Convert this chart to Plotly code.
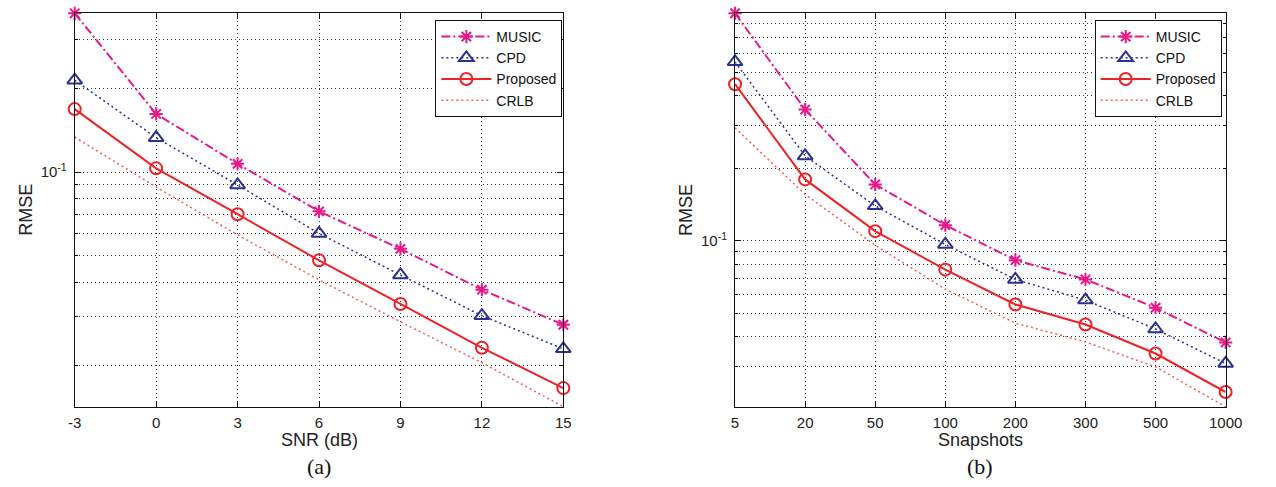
import math
import plotly.graph_objects as go

# ---------------- data ----------------
snr = [-3, 0, 3, 6, 9, 12, 15]
music_a = [0.374, 0.162, 0.107, 0.0721, 0.0528, 0.0376, 0.0281]
cpd_a = [0.2145, 0.133, 0.0898, 0.0600, 0.0425, 0.0303, 0.0230]
prop_a = [0.1687, 0.1031, 0.0704, 0.0480, 0.0334, 0.0232, 0.0166]
crlb_a = [0.1336, 0.0883, 0.0593, 0.0408, 0.0288, 0.0205, 0.01422]

snapshots = ["5", "20", "50", "100", "200", "300", "500", "1000"]
music_b = [0.881, 0.351, 0.1715, 0.1163, 0.0832, 0.0692, 0.0528, 0.0379]
cpd_b = [0.5536, 0.2254, 0.1398, 0.0967, 0.0692, 0.0568, 0.0431, 0.0310]
prop_b = [0.4472, 0.1800, 0.1098, 0.0760, 0.0545, 0.0450, 0.0341, 0.0236]
crlb_b = [0.2946, 0.156, 0.0960, 0.0631, 0.0456, 0.0381, 0.0300, 0.0205]

series_names = ["MUSIC", "CPD", "Proposed", "CRLB"]
major_y = [0.1]
major_y_text = ["10<sup>-1</sup>"]
minor_y = [0.02, 0.03, 0.04, 0.05, 0.06, 0.07, 0.08, 0.09,
           0.2, 0.3, 0.4, 0.5, 0.6, 0.7, 0.8, 0.9]

# ---------------- styles ----------------
W, H = 1276, 487
C_MUSIC = "#E8198B"
C_CPD = "#2E3192"
C_PROP = "#EE2229"
C_CRLB = "#F06060"
FONT = "Liberation Sans"

styles = {
    "MUSIC": dict(line=dict(color=C_MUSIC, width=2, dash="9px,3px,2px,3px"),
                  marker=dict(symbol="asterisk-open", size=11, color=C_MUSIC,
                              line=dict(color=C_MUSIC, width=2)),
                  mode="lines+markers"),
    "CPD": dict(line=dict(color=C_CPD, width=1.5, dash="2px,3px"),
                marker=dict(symbol="triangle-up-open", size=13, color=C_CPD,
                            line=dict(color=C_CPD, width=2)),
                mode="lines+markers"),
    "Proposed": dict(line=dict(color=C_PROP, width=2),
                     marker=dict(symbol="circle-open", size=12, color=C_PROP,
                                 line=dict(color=C_PROP, width=2)),
                     mode="lines+markers"),
    "CRLB": dict(line=dict(color=C_CRLB, width=1.5, dash="2px,3px"),
                 mode="lines"),
}

def px_x(p):
    return p / W

def px_y(p):
    return (H - p) / H

fig = go.Figure()

data_a = [music_a, cpd_a, prop_a, crlb_a]
data_b = [music_b, cpd_b, prop_b, crlb_b]
for name, ys in zip(series_names, data_a):
    fig.add_trace(go.Scatter(x=snr, y=ys, name=name, xaxis="x", yaxis="y",
                             legend="legend", cliponaxis=False, **styles[name]))
for name, ys in zip(series_names, data_b):
    fig.add_trace(go.Scatter(x=snapshots, y=ys, name=name, xaxis="x2", yaxis="y2",
                             legend="legend2", cliponaxis=False, **styles[name]))

GRID_C = "#333"
grid = dict(showgrid=True, gridcolor=GRID_C, gridwidth=1, griddash="1px,3px")
common = dict(showline=True, linecolor="#111", linewidth=1, mirror="ticks",
              ticks="inside", ticklen=6, tickcolor="#111", zeroline=False,
              tickfont=dict(family=FONT, size=15, color="#222"), **grid)

def yaxis_cfg(ys_all, anchor):
    lo = min(min(s) for s in ys_all)
    hi = max(max(s) for s in ys_all)
    eps = 1e-3
    return dict(type="log", range=[math.log10(lo) - eps, math.log10(hi) + eps],
                domain=[px_y(407), px_y(13)], anchor=anchor,
                tickmode="array", tickvals=major_y, ticktext=major_y_text,
                ticklabelstandoff=4,
                minor=dict(tickmode="array", tickvals=minor_y, ticks="inside",
                           ticklen=3, tickcolor="#111", showgrid=True,
                           gridcolor=GRID_C, gridwidth=1, griddash="1px,3px"),
                **common)

legend_common = dict(xanchor="right", yanchor="top",
                     bgcolor="white", bordercolor="#111", borderwidth=1,
                     font=dict(family=FONT, size=14, color="#111"),
                     tracegroupgap=0, itemwidth=50)

fig.update_layout(
    width=W, height=H, autosize=False,
    margin=dict(l=0, r=0, t=0, b=0),
    paper_bgcolor="white", plot_bgcolor="white",
    showlegend=True,
    xaxis=dict(domain=[px_x(69), px_x(567)], anchor="y", range=[snr[0], snr[-1]],
               tickmode="array", tickvals=snr, ticktext=[str(v) for v in snr],
               ticklabelstandoff=2, **common),
    yaxis=yaxis_cfg(data_a, "x"),
    xaxis2=dict(domain=[px_x(742), px_x(1242)], anchor="y2", type="category",
                range=[0, len(snapshots) - 1], ticklabelstandoff=2, **common),
    yaxis2=yaxis_cfg(data_b, "x2"),
    legend=dict(x=px_x(566), y=px_y(20), **legend_common),
    legend2=dict(x=px_x(1238), y=px_y(20), **legend_common),
)

ann_font = dict(family=FONT, size=18, color="#222")
cap_font = dict(family="Liberation Serif", size=22, color="#111")
annotations = [
    dict(text="SNR (dB)", x=px_x(318), y=px_y(440), font=ann_font),
    dict(text="Snapshots", x=px_x(992), y=px_y(440), font=ann_font),
    dict(text="RMSE", x=px_x(19), y=px_y(210), font=ann_font, textangle=-90),
    dict(text="RMSE", x=px_x(692), y=px_y(210), font=ann_font, textangle=-90),
    dict(text="(a)", x=px_x(318), y=px_y(466), font=cap_font),
    dict(text="(b)", x=px_x(992), y=px_y(466), font=cap_font),
]
for a in annotations:
    fig.add_annotation(xref="paper", yref="paper", showarrow=False,
                       xanchor="center", yanchor="middle", **a)

fig.write_html("out.html")
